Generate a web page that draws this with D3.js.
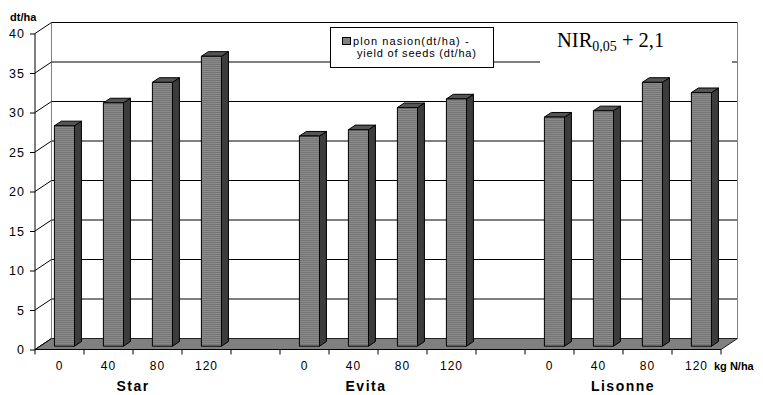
<!DOCTYPE html>
<html>
<head>
<meta charset="utf-8">
<script src="https://cdn.jsdelivr.net/npm/d3@7"></script>
<style>
  body { margin: 0; background: #fff; }
</style>
</head>
<body>
<div id="chart"></div>
<script>
const doses = ["0", "40", "80", "120"];
const varieties = ["Star", "Evita", "Lisonne"];
const star = [27.9, 30.8, 33.4, 36.7];
const evita = [26.6, 27.4, 30.2, 31.3];
const lisonne = [29.0, 29.8, 33.4, 32.1];
const yTicks = [0, 5, 10, 15, 20, 25, 30, 35, 40];

// 14 slots: 4 bars, gap, 4 bars, gap, 4 bars
const slots = [];
[star, evita, lisonne].forEach((vals, g) => {
  vals.forEach((v, i) => slots.push({ group: varieties[g], dose: doses[i], value: v }));
  if (g < 2) slots.push({ group: null, dose: "", value: null });
});

const width = 763;
const height = 395;
const depth = { dx: 16.5, dy: -11 };
const barDepth = [0.3, 0.72];

const svg = d3
  .select("#chart")
  .append("svg")
  .attr("width", width)
  .attr("height", height)
  .attr("font-family", "Liberation Sans, Arial, sans-serif");

const x = d3.scaleBand()
  .domain(d3.range(slots.length))
  .range([35, 721])
  .paddingInner(0.59)
  .paddingOuter(0.295);
const y = d3.scaleLinear().domain([0, 40]).range([349.5, 33.5]);
const step = x.step();
const x0 = 35, x1 = 721;

// stripe pattern for bar fronts
const pat = svg.append("defs").append("pattern")
  .attr("id", "stripes")
  .attr("patternUnits", "userSpaceOnUse")
  .attr("width", 4).attr("height", 2);
pat.append("rect").attr("width", 4).attr("height", 2).attr("fill", "#8a8a8a");
pat.append("rect").attr("width", 4).attr("height", 1).attr("fill", "#767676");

// floor
svg.append("path")
  .attr("d", `M${x0},${y(0)}L${x1},${y(0)}L${x1 + depth.dx},${y(0) + depth.dy}L${x0 + depth.dx},${y(0) + depth.dy}Z`)
  .attr("fill", "#808080")
  .attr("stroke", "#222")
  .attr("stroke-width", 1);

// back wall gridlines
svg.append("g")
  .selectAll("line")
  .data(yTicks.slice(1))
  .join("line")
  .attr("x1", x0 + depth.dx)
  .attr("x2", x1 + depth.dx)
  .attr("y1", (d) => y(d) + depth.dy)
  .attr("y2", (d) => y(d) + depth.dy)
  .attr("stroke", "#000");

// back wall edges
svg.append("g")
  .selectAll("line")
  .data([x0 + depth.dx, x1 + depth.dx])
  .join("line")
  .attr("x1", (d) => d).attr("x2", (d) => d)
  .attr("y1", y(40) + depth.dy).attr("y2", y(0) + depth.dy)
  .attr("stroke", "#808080");

// side wall lines
svg.append("g")
  .selectAll("line")
  .data(yTicks)
  .join("line")
  .attr("x1", x0).attr("y1", (d) => y(d))
  .attr("x2", x0 + depth.dx).attr("y2", (d) => y(d) + depth.dy)
  .attr("stroke", "#000");

// y axis
svg.append("g")
  .attr("transform", `translate(${x0},0)`)
  .call(d3.axisLeft(y).tickValues(yTicks).tickSize(5).tickPadding(5))
  .call((g) => g.attr("font-family", null))
  .call((g) => g.select(".domain").attr("d", `M0,${y(0)}V${y(40)}`))
  .call((g) => g.selectAll("text")
    .attr("font-size", 12.5)
    .attr("letter-spacing", 1));

svg.append("text")
  .attr("x", 10).attr("y", 21)
  .attr("font-size", 11).attr("font-weight", "bold")
  .text("dt/ha");

// x axis ticks (slot boundaries)
const bounds = d3.range(slots.length + 1).map((i) => x0 + i * step);
svg.append("line")
  .attr("x1", x0).attr("x2", x1).attr("y1", y(0)).attr("y2", y(0))
  .attr("stroke", "#000");
svg.append("g")
  .selectAll("line")
  .data(bounds)
  .join("line")
  .attr("x1", (d) => d).attr("x2", (d) => d)
  .attr("y1", y(0)).attr("y2", y(0) + 5)
  .attr("stroke", "#000");

svg.append("g")
  .selectAll("text")
  .data(slots)
  .join("text")
  .attr("x", (d, i) => x(i) + x.bandwidth() / 2)
  .attr("y", 370)
  .attr("text-anchor", "middle")
  .attr("font-size", 12)
  .attr("letter-spacing", 1)
  .text((d) => d.dose);

svg.append("text")
  .attr("x", 714).attr("y", 370)
  .attr("font-size", 11).attr("font-weight", "bold")
  .text("kg N/ha");

// group labels (Evita sits a little left of its group in the original)
const groupShift = { Star: 0, Evita: -12, Lisonne: 0 };
svg.append("g")
  .selectAll("text")
  .data(varieties)
  .join("text")
  .attr("x", (g) => {
    const idx = slots.map((d, i) => (d.group === g ? i : -1)).filter((i) => i >= 0);
    return (x(idx[0]) + x(idx[idx.length - 1]) + x.bandwidth()) / 2 + groupShift[g];
  })
  .attr("y", 391)
  .attr("text-anchor", "middle")
  .attr("font-size", 14)
  .attr("font-weight", "bold")
  .attr("letter-spacing", 1.5)
  .text((g) => g);

// 3d bars
const bw = x.bandwidth();
const fx = barDepth[0] * depth.dx, fy = barDepth[0] * depth.dy;
const sx = (barDepth[1] - barDepth[0]) * depth.dx, sy = (barDepth[1] - barDepth[0]) * depth.dy;
const bars = svg.append("g")
  .selectAll("g")
  .data(slots.map((d, i) => ({ ...d, i })).filter((d) => d.value !== null))
  .join("g")
  .attr("stroke", "#000")
  .attr("stroke-width", 1)
  .attr("stroke-linejoin", "round");

bars.append("path")
  .attr("fill", "#3c3c3c")
  .attr("d", (d) => {
    const l = x(d.i) + fx + bw, t = y(d.value) + fy, b = y(0) + fy;
    return `M${l},${b}L${l},${t}L${l + sx},${t + sy}L${l + sx},${b + sy}Z`;
  });
bars.append("path")
  .attr("fill", "#555")
  .attr("d", (d) => {
    const l = x(d.i) + fx, t = y(d.value) + fy;
    return `M${l},${t}L${l + bw},${t}L${l + bw + sx},${t + sy}L${l + sx},${t + sy}Z`;
  });
bars.append("rect")
  .attr("fill", "url(#stripes)")
  .attr("x", (d) => x(d.i) + fx)
  .attr("y", (d) => y(d.value) + fy)
  .attr("width", bw)
  .attr("height", (d) => y(0) - y(d.value));

// legend
const leg = svg.append("g");
leg.append("rect")
  .attr("x", 330.5).attr("y", 27.5).attr("width", 163).attr("height", 40)
  .attr("fill", "#fff").attr("stroke", "#000");
leg.append("rect")
  .attr("x", 342.5).attr("y", 37.5).attr("width", 8).attr("height", 7)
  .attr("fill", "#808080").attr("stroke", "#000");
leg.append("text").attr("x", 353).attr("y", 44.5).attr("font-size", 11)
  .attr("letter-spacing", 1.1).text("plon nasion(dt/ha) -");
leg.append("text").attr("x", 357).attr("y", 56.5).attr("font-size", 11)
  .attr("letter-spacing", 0.8).text("yield of seeds (dt/ha)");

// NIR note
svg.append("rect")
  .attr("x", 540).attr("y", 28).attr("width", 192).attr("height", 38)
  .attr("fill", "#fff");
const nir = svg.append("text")
  .attr("x", 557).attr("y", 47)
  .attr("font-family", "Liberation Serif, Times New Roman, serif")
  .attr("font-size", 20.5);
nir.append("tspan").text("NIR");
nir.append("tspan").attr("font-size", 14).attr("dy", 4).text("0,05");
nir.append("tspan").attr("dy", -4).text(" + 2,1");
</script>
</body>
</html>
